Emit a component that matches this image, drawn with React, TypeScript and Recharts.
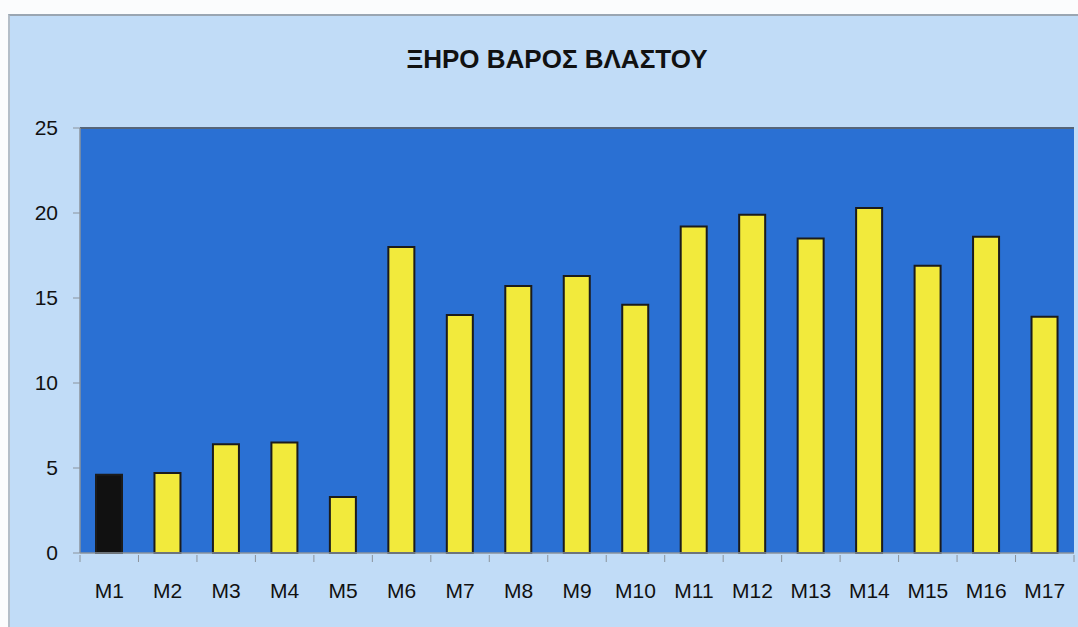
import React from 'react';
import { BarChart, Bar, XAxis, YAxis, CartesianGrid, Cell, ReferenceLine } from 'recharts';

const categories = ['M1', 'M2', 'M3', 'M4', 'M5', 'M6', 'M7', 'M8', 'M9', 'M10', 'M11', 'M12', 'M13', 'M14', 'M15', 'M16', 'M17'];
const dryWeight = [4.6, 4.7, 6.4, 6.5, 3.3, 18.0, 14.0, 15.7, 16.3, 14.6, 19.2, 19.9, 18.5, 20.3, 16.9, 18.6, 13.9];
const yTicks = [0, 5, 10, 15, 20, 25];

const data = categories.map((name, i) => ({ name, value: dryWeight[i] }));

const FONT = '"Liberation Sans", Arial, Helvetica, sans-serif';
const AXIS_GRAY = '#8a939c';

// category label, with tick marks on the band edges instead of the centre
const CategoryTick = (props: any) => {
    const { x, y, payload, index, width, visibleTicksCount } = props;
    const band = width / visibleTicksCount;
    const left = x - band / 2;
    return (
        <g>
            <line x1={left} x2={left} y1={y} y2={y + 7} stroke={AXIS_GRAY} />
            {index === visibleTicksCount - 1 && (
                <line x1={left + band} x2={left + band} y1={y} y2={y + 7} stroke={AXIS_GRAY} />
            )}
            <text x={x} y={y + 28} dy="0.71em" textAnchor="middle" fill="#111" fontSize={21} fontFamily={FONT}>
                {payload.value}
            </text>
        </g>
    );
};

export default function App() {
    return (
        <div style={{ position: 'absolute', left: 0, top: 0, width: 1078, height: 627, background: '#fbfcfd', overflow: 'hidden' }}>
            <div
                style={{
                    position: 'absolute',
                    left: 8,
                    top: 14,
                    right: 0,
                    bottom: 0,
                    background: '#c1dcf7',
                    borderTop: '2px solid #9aa6b2',
                    borderLeft: '2px solid #b4bec8',
                }}
            />
            <div
                style={{
                    position: 'absolute',
                    left: 0,
                    width: 1078,
                    top: 44,
                    textAlign: 'center',
                    fontFamily: FONT,
                    fontWeight: 'bold',
                    fontSize: 26,
                    color: '#111',
                    paddingLeft: 18,
                }}
            >
                ΞΗΡΟ ΒΑΡΟΣ ΒΛΑΣΤΟΥ
            </div>
            <div style={{ position: 'absolute', left: 0, top: 0 }}>
                <BarChart
                    width={1078}
                    height={627}
                    data={data}
                    margin={{ top: 128, right: 4, bottom: 0, left: 20 }}
                    barSize={26}
                >
                    <CartesianGrid fill="#2a70d3" horizontal={false} vertical={false} />
                    <ReferenceLine y={25} stroke="#55657a" strokeWidth={2} />
                    <XAxis
                        dataKey="name"
                        tickLine={false}
                        axisLine={{ stroke: AXIS_GRAY, strokeWidth: 1.5 }}
                        tickSize={0}
                        interval={0}
                        tick={<CategoryTick />}
                        height={74}
                    />
                    <YAxis
                        domain={[0, 25]}
                        ticks={yTicks}
                        width={60}
                        axisLine={{ stroke: AXIS_GRAY, strokeWidth: 1.5 }}
                        tickLine={{ stroke: AXIS_GRAY }}
                        tickSize={7}
                        tickMargin={15}
                        tick={{ fill: '#111', fontSize: 21, fontFamily: FONT }}
                    />
                    <Bar dataKey="value" stroke="#1b1b1b" strokeWidth={2} isAnimationActive={false}>
                        {data.map((d, i) => (
                            <Cell key={d.name} fill={i === 0 ? '#111111' : '#f2ea3c'} />
                        ))}
                    </Bar>
                </BarChart>
            </div>
        </div>
    );
}
